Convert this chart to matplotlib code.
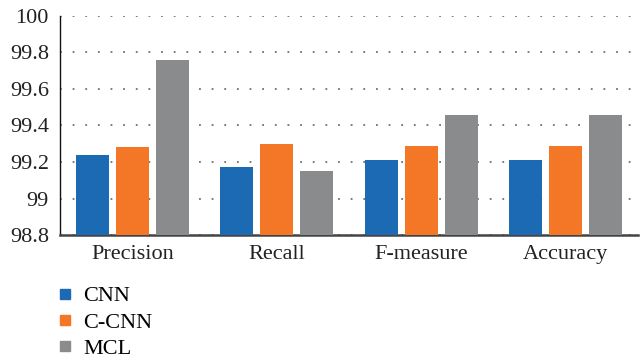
import matplotlib
matplotlib.use("Agg")
import matplotlib.pyplot as plt
from matplotlib.lines import Line2D
import numpy as np

categories = ["Precision", "Recall", "F-measure", "Accuracy"]
series_names = ["CNN", "C-CNN", "MCL"]
cnn = [99.24, 99.17, 99.21, 99.21]
ccnn = [99.28, 99.30, 99.29, 99.29]
mcl = [99.76, 99.15, 99.46, 99.46]
y_ticks = [98.8, 99.0, 99.2, 99.4, 99.6, 99.8, 100.0]
y_tick_labels = ["98.8", "99", "99.2", "99.4", "99.6", "99.8", "100"]

colors = ["#1c6ab4", "#f47727", "#8a8b8c"]

plt.rcParams["font.family"] = ["Liberation Serif", "DejaVu Serif"]
plt.rcParams["font.size"] = 16

fig = plt.figure(figsize=(6.44, 3.61), dpi=100)
ax = fig.add_axes([0.0932, 0.349, 0.8975, 0.6068])

x = np.arange(len(categories))
width = 0.228
step = 0.277
for i, (vals, c) in enumerate(zip([cnn, ccnn, mcl], colors)):
    base = y_ticks[0]
    ax.bar(x + (i - 1) * step, np.array(vals) - base, width, bottom=base,
           color=c, zorder=3, label=series_names[i])

ax.set_xlim(-0.5, len(categories) - 0.5)
ax.set_ylim(98.8, 100.0)
ax.set_yticks(y_ticks)
ax.set_yticklabels(y_tick_labels, color="#222222")
ax.set_xticks(x)
ax.set_xticklabels(categories, color="#222222")
ax.tick_params(axis="y", length=0, pad=8)
ax.tick_params(axis="x", length=0, pad=7)

ax.yaxis.grid(True, linestyle=(0, (1, 6)), color="#707070", linewidth=1.3, zorder=0)
ax.set_axisbelow(True)
for s in ["top", "right"]:
    ax.spines[s].set_visible(False)
ax.spines["left"].set_color("#111111")
ax.spines["left"].set_linewidth(1.0)
ax.spines["bottom"].set_color("#444444")
ax.spines["bottom"].set_linewidth(1.8)

handles = [Line2D([], [], marker="s", linestyle="none", markersize=7.2,
                  markerfacecolor=c, markeredgecolor=c) for c in colors]
fig.legend(handles, series_names, loc="upper left", bbox_to_anchor=(0.0871, 0.208),
           frameon=False, handlelength=0.8, handletextpad=0.41, labelspacing=0.26,
           borderaxespad=0, borderpad=0, fontsize=16)

fig.savefig("out.png", dpi=100)
